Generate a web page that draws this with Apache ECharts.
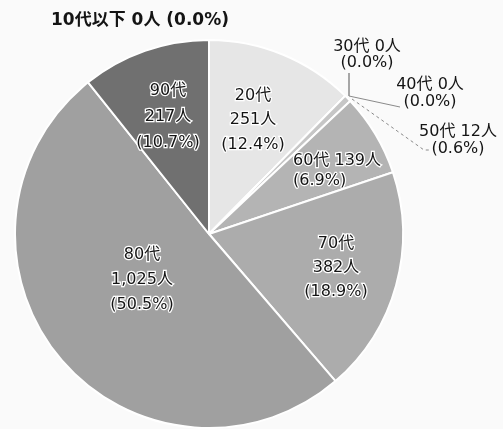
<!DOCTYPE html>
<html>
<head>
<meta charset="utf-8">
<script src="https://cdn.jsdelivr.net/npm/echarts@6/dist/echarts.min.js"></script>
<style>
  html, body { margin: 0; padding: 0; background: #fafafa; }
  #chart { width: 503px; height: 429px; }
</style>
</head>
<body>
<div id="chart"></div>
<script>
// 年代別の人数と割合
const ages = ['10代以下', '20代', '30代', '40代', '50代', '60代', '70代', '80代', '90代'];
const counts = [0, 251, 0, 0, 12, 139, 382, 1025, 217];
const percents = ['0.0', '12.4', '0.0', '0.0', '0.6', '6.9', '18.9', '50.5', '10.7'];

const shades = ['#d0d0d0', '#e6e6e6', '#d0d0d0', '#d0d0d0', '#c6c6c6', '#b4b4b4', '#acacac', '#a0a0a0', '#707070'];

// ラベルの置き場所 (中心)
const labelSpot = {
    0: { x: 140, y: 21, lh: 20, align: 'center' },
    1: { x: 253, y: 120, lh: 24.5, align: 'center' },
    2: { x: 367, y: 55, lh: 16, align: 'center' },
    3: { x: 430, y: 93, lh: 17, align: 'center' },
    4: { x: 458, y: 140, lh: 17, align: 'center' },
    5: { x: 293, y: 171, lh: 20, align: 'left' },
    6: { x: 336, y: 268, lh: 24, align: 'center' },
    7: { x: 142, y: 280, lh: 25, align: 'center' },
    8: { x: 168, y: 117, lh: 26, align: 'center' }
};

// 引き出し線 (30代と40代は一本の折れ線でまとめて引く)
const leaderLines = {
    2: [[349, 96], [349, 85], [349, 73]],
    3: [[349, 73], [349, 96], [400, 107]],
    4: [[352, 99], [424, 150], [430, 150]]
};

function labelText(i) {
    const n = counts[i].toLocaleString('en-US') + '人';
    const p = '(' + percents[i] + '%)';
    if (i === 0) return ages[i] + ' ' + n + ' ' + p;
    if (i >= 2 && i <= 5) return ages[i] + ' ' + n + '\n' + p;
    return ages[i] + '\n' + n + '\n' + p;
}

const chart = echarts.init(document.getElementById('chart'));

const pieData = ages.map((a, i) => {
    const outer = i >= 2 && i <= 4;
    return {
        name: a,
        value: counts[i],
        itemStyle: { color: shades[i] },
        label: {
            lineHeight: labelSpot[i].lh,
            fontWeight: i === 0 ? 'bold' : 'normal',
            fontSize: i === 0 ? 17 : 16,
            textBorderWidth: i === 0 || outer ? 0 : 2.5
        },
        labelLine: {
            show: outer,
            lineStyle: { type: i === 4 ? [3, 3] : 'solid' }
        }
    };
});

chart.setOption({
    backgroundColor: '#fafafa',
    animation: false,
    series: [{
        type: 'pie',
        center: [209, 234],
        radius: 194,
        startAngle: 90,
        clockwise: true,
        avoidLabelOverlap: false,
        itemStyle: { borderColor: '#ffffff', borderWidth: 2 },
        label: {
            show: true,
            position: 'outside',
            fontFamily: '"DejaVu Sans", "Noto Sans CJK JP", sans-serif',
            color: '#141414',
            textBorderColor: '#ffffff',
            formatter: p => labelText(p.dataIndex)
        },
        labelLine: {
            lineStyle: { color: '#8a8a8a', width: 1 }
        },
        labelLayout: params => {
            const s = labelSpot[params.dataIndex];
            const out = { x: s.x, y: s.y, align: s.align, verticalAlign: 'middle' };
            if (leaderLines[params.dataIndex]) out.labelLinePoints = leaderLines[params.dataIndex];
            return out;
        },
        data: pieData
    }]
});
</script>
</body>
</html>
